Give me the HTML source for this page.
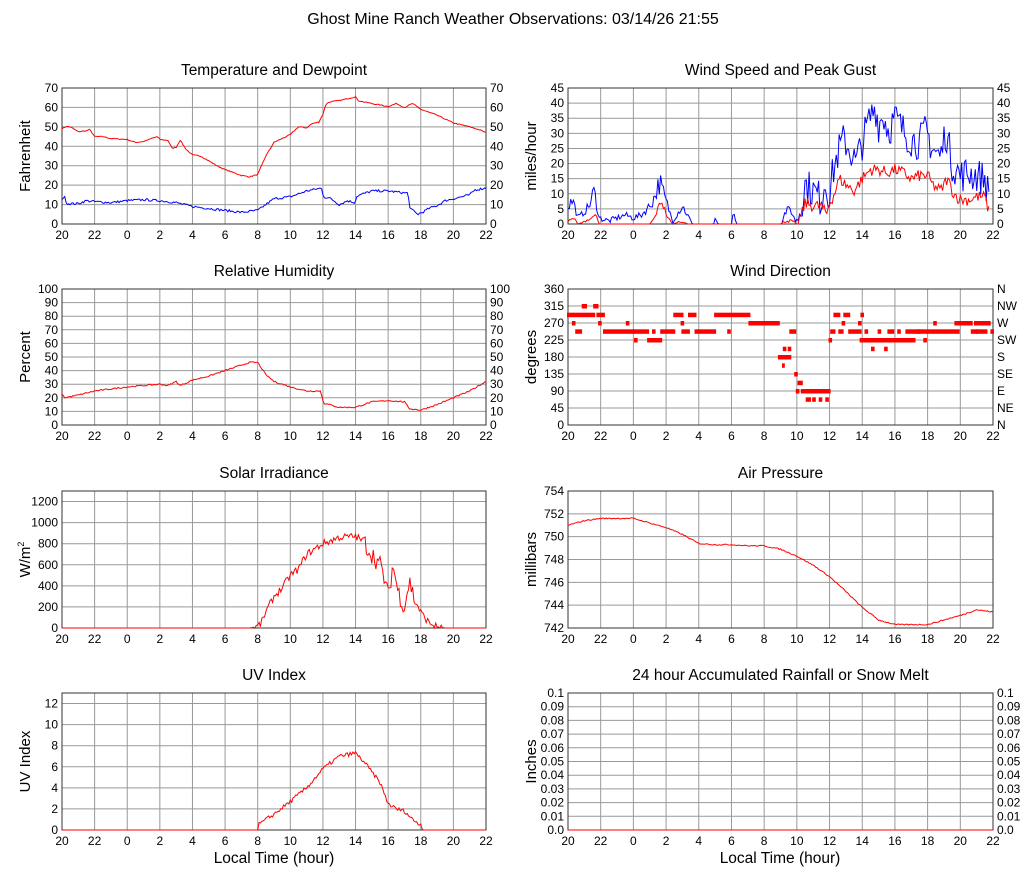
<!DOCTYPE html>
<html><head><meta charset="utf-8"><style>
body{margin:0;background:#fff;}
svg{display:block;font-family:"Liberation Sans",Arial,sans-serif;}
</style></head><body>
<svg id="s" width="1027" height="878" xmlns="http://www.w3.org/2000/svg"></svg>
<script>
var S=document.getElementById('s'),out='';
var seed=7;function rnd(){seed=(seed*16807)%2147483647;return seed/2147483647;}
function conv(arr){var res=[],day=0;for(var i=0;i<arr.length;i+=2){var h=arr[i];var t=h-20+24*day;
 if(res.length&&t<res[res.length-1][0]){day++;t+=24;} res.push([t,arr[i+1]]);}return res;}
function interp(k,t){if(t<=k[0][0])return k[0][1];for(var i=1;i<k.length;i++){if(t<=k[i][0]){var a=k[i-1],b=k[i];return a[1]+(b[1]-a[1])*(t-a[0])/((b[0]-a[0])||1);}}return k[k.length-1][1];}
function series(P,k,noise,col,tmax,clampMin){var pts=[];tmax=tmax||26;
 for(var t=0;t<=tmax+1e-9;t+=1/12){var v=interp(k,t);var n=(typeof noise=='function')?noise(t,v):noise;v+=(rnd()-0.5)*2*n;if(clampMin!=null&&v<clampMin)v=clampMin;
 pts.push(P.x(t).toFixed(1)+','+P.y(v).toFixed(1));}
 out+='<polyline fill="none" stroke="'+col+'" stroke-width="1" points="'+pts.join(' ')+'"/>';}
function panel(x0,y0,w,h,ymin,ymax,ticks,title,ylab,right,rlabels,fmt){
 var P={x:function(t){return x0+t/26*w;},y:function(v){return y0+h-(v-ymin)/(ymax-ymin)*h;}};
 for(var i=1;i<13;i++){var xx=x0+i*2/26*w;out+='<line x1="'+xx+'" y1="'+y0+'" x2="'+xx+'" y2="'+(y0+h)+'" stroke="#999" stroke-width="1"/>';}
 ticks.forEach(function(v,j){var yy=P.y(v);if(v>ymin&&v<ymax)out+='<line x1="'+x0+'" y1="'+yy+'" x2="'+(x0+w)+'" y2="'+yy+'" stroke="#999" stroke-width="1"/>';
  var lab=fmt?fmt(v):v;out+='<text x="'+(x0-4)+'" y="'+(yy+4)+'" font-size="12" text-anchor="end">'+lab+'</text>';
  if(right)out+='<text x="'+(x0+w+4)+'" y="'+(yy+4)+'" font-size="12">'+(rlabels?rlabels[j]:lab)+'</text>';});
 out+='<rect x="'+x0+'" y="'+y0+'" width="'+w+'" height="'+h+'" fill="none" stroke="#333" stroke-width="1"/>';
 var hl=['20','22','0','2','4','6','8','10','12','14','16','18','20','22'];
 hl.forEach(function(l,i){out+='<text x="'+(x0+i*2/26*w)+'" y="'+(y0+h+15)+'" font-size="12" text-anchor="middle">'+l+'</text>';});
 out+='<text x="'+(x0+w/2)+'" y="'+(y0-13)+'" font-size="15.5" text-anchor="middle">'+title+'</text>';
 out+='<text transform="translate('+(x0-32)+','+(y0+h/2)+') rotate(-90)" font-size="15" text-anchor="middle">'+ylab+'</text>';
 return P;}
function rng(a,b,s){var r=[];for(var v=a;v<=b+1e-9;v+=s)r.push(Math.round(v*100)/100);return r;}
var LX=62,RX=568,W1=424,W2=425,H=136;
out+='<text x="513" y="24" font-size="16" text-anchor="middle">Ghost Mine Ranch Weather Observations: 03/14/26 21:55</text>';
var P=panel(LX,88,W1,H,0,70,rng(0,70,10),'Temperature and Dewpoint','Fahrenheit',true);
var temp=conv([20,49,20.25,50.2,20.5,50,21,47.5,21.5,48,21.7,48.7,22,45,22.5,45,23,44,0,43.5,0.5,42,1,42.5,1.5,44,1.85,45,2,43.5,2.5,43,2.75,39,3,39.5,3.25,43.2,3.6,38.5,4,35.5,4.5,35,5,32.5,5.5,30,6,28,7,25,7.5,24.3,8,25.5,8.5,35,9,42,10,46,10.5,50,11,49.5,11.3,51.5,11.75,52.5,12,56.5,12.2,62,12.5,63,13,63.5,13.5,64.5,14,65.5,14.15,63.5,15,62,16,60.5,16.5,62,17,60,17.5,62,18,59,19,56,20,52,21,50,21.6,48.5,22,47]);
series(P,temp,0.25,'#f00');
var dew=conv([20,13,20.15,14,20.3,10.5,21,10.5,21.5,12,22,11.5,23,11,0,12,1,12.5,2,12,3,11,4,9,5,8,6,7,7,6,8,7,8.5,10,9,13,10,14,11,17,11.9,18.5,12.05,14,12.5,13,13,10,13.5,12,13.95,11,14.1,14.5,15,17,16,17,17,16,17.2,16,17.35,8,17.8,5,18.1,6,18.5,8,19,9.5,19.5,12,20,13,21,15,21.3,17.5,22,18.5]);
series(P,dew,0.6,'#00f');
P=panel(RX,88,W2,H,0,45,rng(0,45,5),'Wind Speed and Peak Gust','miles/hour',true);
var gust=conv([20,6,20.3,8,20.6,2,21,4,21.3,6,21.6,11,21.9,2,22.5,1,23,2,23.5,3,0,2,0.5,3,1,6,1.3,9,1.6,14,1.9,9,2.1,6,2.4,1,3,6,3.3,3,3.6,0,4,0,4.9,0,5,1,5.2,0,6,0,6.1,4,6.3,0,9,0,9.3,4,9.6,5,9.9,1,10.2,5,10.5,13,11,11,11.5,8,11.7,14,12,10,12.2,17,12.6,25,12.9,28,13.3,24,13.6,20,14,27,14.4,34,14.8,39,15,33,15.3,36,15.6,31,16,35,16.5,31,17,28,17.5,27,17.9,31,18.3,25,18.8,22,19.1,31,19.5,20,20,16,20.5,17,21,16,21.5,15,21.8,8,21.95,8]);
series(P,gust,function(t,v){return v<0.5?0:(t<14?Math.max(1,v*0.3):6);},'#00f',25.8,0);
var spd=conv([20,1,20.3,2,20.6,0,21.5,2,21.7,4,21.9,0,1,0,1.3,2,1.7,8,2.1,2,2.4,0,3,1,3.3,0,9,0,9.3,1,9.7,1,10,0,10.3,3,10.5,7,11,6,11.5,6,11.8,3,12,7,12.3,10,12.6,15,13,13,13.5,11,14,15,14.5,18,15,18,15.5,17,16,18,16.5,17,17,15,17.5,16,18,16,18.3,13,18.8,11,19.2,15,19.6,10,20,8,20.5,8,21,9,21.5,9,21.8,3,21.95,4]);
series(P,spd,function(t,v){return v<0.5?0:(t<14?Math.max(0.5,v*0.2):2);},'#f00',25.8,0);
P=panel(LX,289,W1,H,0,100,rng(0,100,10),'Relative Humidity','Percent',true);
var rh=conv([20,23,20.15,20,21,22,22,25,0,28,1,29,2,30,2.5,29,3,32,3.25,29,4,33,5,36,6,40,7,44,7.5,46,8,46,8.5,37,9,32,10,28,11,25,11.85,25,12.05,16,13,13,14,13,15,17,16,18,17,17,17.3,12,18,11,19,15,20,20,21,25,22,32]);
series(P,rh,0.5,'#f00');
P=panel(RX,289,W2,H,0,360,rng(0,360,45),'Wind Direction','degrees',true,['N','NE','E','SE','S','SW','W','NW','N']);
function H2T(h){return h>=20? h-20 : h+4;}
var segs=[[20,20.3,292],[20.3,20.4,270],[20.4,21.0,292],[20.5,20.8,248],[20.9,21.1,315],[21.1,21.6,292],[21.6,21.8,315],[21.8,22.2,292],[21.9,22.0,270],[22.2,24,248],[23.6,23.7,270],[0,0.9,248],[0.1,0.2,225],[0.9,1.7,225],[1.2,1.3,248],[1.7,2.5,248],[2.5,3.0,292],[3.0,3.4,248],[2.95,3.05,270],[3.4,3.8,292],[3.8,5.0,248],[5.0,7.1,292],[5.8,5.9,248],[7.1,8.9,270],[8.9,9.2,180],[9.15,9.2,158],[9.2,9.3,202],[9.3,9.6,180],[9.5,9.6,202],[9.6,9.9,248],[9.9,10.0,135],[10.0,10.1,90],[10.1,10.3,112],[10.3,12.0,90],[10.6,10.8,68],[11.0,11.1,68],[11.4,11.5,68],[11.8,11.9,68],[12.0,12.1,225],[12.1,12.3,248],[12.3,12.6,292],[12.6,12.8,248],[12.8,12.9,270],[12.9,13.2,292],[13.2,13.9,248],[13.8,13.9,270],[13.95,14.05,292],[13.9,17.2,225],[14.2,14.3,248],[14.6,14.7,202],[15.0,15.1,248],[15.4,15.5,202],[15.6,15.7,248],[15.8,15.9,248],[16.2,16.3,248],[16.7,19.9,248],[17.4,17.5,248],[17.8,17.9,225],[18.4,18.5,270],[19.7,19.8,270],[19.9,20.7,270],[44.0,44.7,270],[44.7,45.0,248],[44.9,45.3,270],[45.0,45.6,248],[45.4,45.8,270],[45.9,46.0,248]];
segs.forEach(function(s){var a=H2T(s[0]),b=H2T(s[1]);if(s[1]==24)b=4;if(b<a)b=a+0.05;
 var x1=P.x(a)-1,x2=P.x(b)+1;out+='<rect x="'+x1.toFixed(1)+'" y="'+(P.y(s[2])-2)+'" width="'+(x2-x1).toFixed(1)+'" height="4.5" fill="#f00"/>';});
P=panel(LX,491,W1,137,0,1300,rng(0,1200,200),'Solar Irradiance','W/m<tspan font-size="9" dy="-6">2</tspan>',false);
var sol=conv([20,0,7.5,0,7.9,10,8.2,40,8.5,150,9,300,9.5,380,10,500,10.5,560,11,700,12,800,13,860,14,870,14.5,820,15,700,15.5,600,15.8,450,16,300,16.3,600,16.6,350,17,200,17.3,450,17.6,280,18,150,18.5,50,19,10,19.5,0,22,0]);
series(P,sol,function(t,v){return v<5?0:(t>18.5&&t<21.8?90:35);},'#f00',26,0);
P=panel(RX,491,W2,137,742,754,rng(742,754,2),'Air Pressure','millibars',false);
var pr=conv([20,751,21,751.4,22,751.6,0,751.6,1,751.2,2,750.8,3,750.2,4,749.4,5,749.3,6,749.3,7,749.2,8,749.2,9,748.9,10,748.3,11,747.5,12,746.5,13,745.2,14,743.8,15,742.7,16,742.3,17,742.3,18,742.3,19,742.7,20,743.1,21,743.6,22,743.4]);
series(P,pr,0.05,'#f00');
P=panel(LX,693,W1,137,0,13,rng(0,12,2),'UV Index','UV Index',false);
var uv=conv([20,0,8,0,8.05,0.5,9,1.5,10,2.7,11,4,12,5.8,13,7,14,7.3,14.5,6.5,15,5.5,15.5,4.5,16,2.5,16.5,2,17,1.8,17.5,1,18,0.5,18.2,0,22,0]);
series(P,uv,function(t,v){return v<0.01?0:0.2;},'#f00',26,0);
P=panel(RX,693,W2,137,0,0.1,rng(0,0.1,0.01),'24 hour Accumulated Rainfall or Snow Melt','Inches',true,null,function(v){return v==0?'0.0':(v==0.1?'0.1':v.toFixed(2));});
out+='<line x1="'+RX+'" y1="830" x2="'+(RX+W2)+'" y2="830" stroke="#f00"/>';
out+='<text x="274" y="863" font-size="15.5" text-anchor="middle">Local Time (hour)</text>';
out+='<text x="780" y="863" font-size="15.5" text-anchor="middle">Local Time (hour)</text>';
S.innerHTML=out;
</script>
</body></html>
